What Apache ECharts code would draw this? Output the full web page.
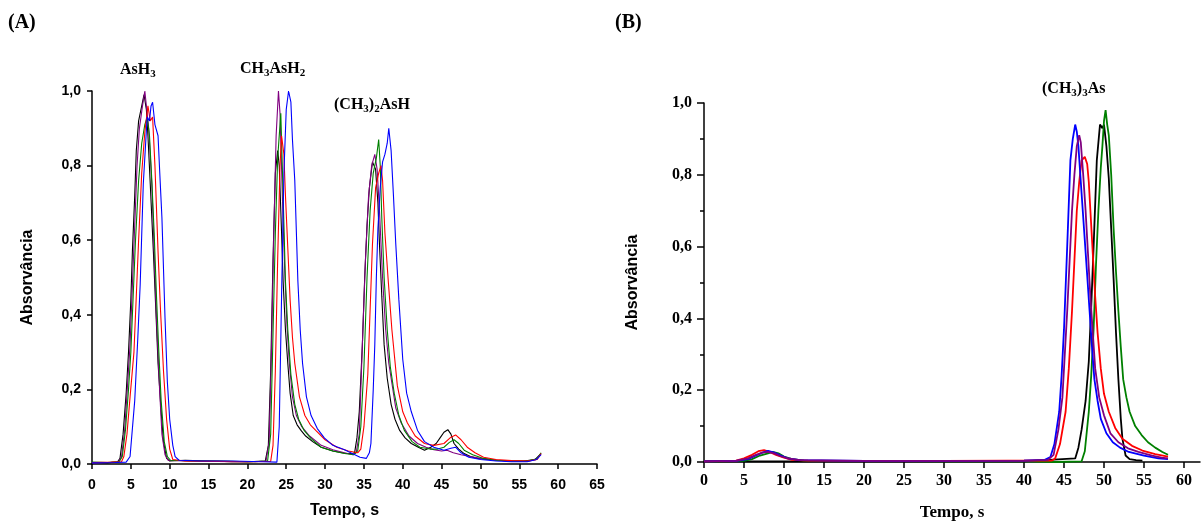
<!DOCTYPE html>
<html>
<head>
<meta charset="utf-8">
<script src="https://cdn.jsdelivr.net/npm/echarts@6/dist/echarts.min.js"></script>
<style>html,body{margin:0;padding:0;background:#fff}#c{width:1201px;height:528px}</style>
</head>
<body>
<div id="c"></div>
<script>
// ---------- DATA (time s, absorbance) ----------
const xTicksA = [0,5,10,15,20,25,30,35,40,45,50,55,60,65];
const xTicksB = [0,5,10,15,20,25,30,35,40,45,50,55,60];
const yTicks = [0,0.2,0.4,0.6,0.8,1.0];
const colors = {black:'#000000', purple:'#800080', green:'#008000', red:'#ff0000', blue:'#0000ff'};

const aBlack = [[0,0.004],[2,0.003],[3.3,0.006],[3.6,0.015],[4.0,0.08],[4.4,0.19],[4.7,0.30],[5.0,0.44],[5.2,0.57],[5.5,0.72],[5.7,0.84],[6.0,0.92],[6.4,0.96],[6.7,0.99],[7.0,0.95],[7.2,0.88],[7.5,0.75],[7.9,0.57],[8.2,0.42],[8.5,0.27],[8.9,0.14],[9.2,0.06],[9.6,0.015],[10,0.008],[12,0.01],[15,0.008],[18,0.006],[21,0.006],[22.3,0.008],[22.7,0.05],[23.0,0.25],[23.3,0.55],[23.6,0.78],[23.9,0.84],[24.1,0.80],[24.4,0.62],[24.6,0.49],[24.9,0.36],[25.2,0.27],[25.5,0.19],[25.9,0.13],[26.4,0.105],[26.9,0.09],[27.5,0.075],[28.4,0.06],[29.5,0.045],[31,0.035],[32.7,0.028],[33.5,0.028],[33.8,0.03],[34.1,0.07],[34.4,0.14],[34.8,0.32],[35.1,0.50],[35.4,0.64],[35.7,0.74],[36.1,0.81],[36.5,0.79],[36.8,0.70],[37.0,0.59],[37.3,0.45],[37.6,0.32],[38.0,0.23],[38.5,0.16],[39.0,0.12],[39.6,0.09],[40.3,0.07],[41.1,0.055],[42,0.045],[42.8,0.037],[43.6,0.045],[44.3,0.055],[44.8,0.07],[45.3,0.085],[45.8,0.092],[46.2,0.08],[46.6,0.055],[47.2,0.04],[47.9,0.028],[48.7,0.02],[49.6,0.015],[51,0.012],[52.2,0.01],[54,0.008],[55.6,0.008],[57,0.012],[57.8,0.028]];
const aPurple = [[0,0.003],[2,0.004],[3.4,0.005],[3.8,0.02],[4.2,0.09],[4.6,0.22],[4.9,0.32],[5.2,0.48],[5.5,0.64],[5.8,0.80],[6.1,0.90],[6.5,0.96],[6.8,1.0],[7.0,1.0],[7.3,0.90],[7.7,0.75],[8.0,0.57],[8.3,0.39],[8.7,0.20],[9.0,0.08],[9.4,0.025],[9.8,0.01],[12,0.008],[16,0.007],[20,0.006],[22.4,0.008],[22.8,0.06],[23.1,0.30],[23.4,0.62],[23.7,0.88],[24.0,1.0],[24.2,0.94],[24.5,0.72],[24.8,0.52],[25.1,0.37],[25.4,0.27],[25.8,0.18],[26.3,0.13],[27,0.1],[28,0.075],[29.5,0.05],[31,0.038],[32.5,0.03],[33.6,0.025],[34.0,0.03],[34.4,0.08],[34.8,0.32],[35.2,0.55],[35.6,0.72],[36.0,0.80],[36.4,0.83],[36.7,0.79],[37.0,0.68],[37.4,0.50],[37.8,0.36],[38.2,0.27],[38.5,0.23],[39.1,0.15],[39.8,0.11],[40.8,0.075],[41.9,0.055],[43,0.045],[44,0.038],[45,0.035],[45.7,0.037],[46.5,0.03],[47.5,0.025],[48.7,0.02],[50,0.015],[52,0.01],[54,0.008],[56,0.007],[57.2,0.012],[57.8,0.028]];
const aGreen = [[0,0.005],[2,0.004],[3.5,0.006],[3.9,0.02],[4.3,0.09],[4.7,0.2],[5.0,0.30],[5.3,0.45],[5.6,0.6],[6.0,0.76],[6.4,0.86],[6.8,0.91],[7.1,0.93],[7.4,0.88],[7.7,0.76],[8.0,0.62],[8.3,0.45],[8.6,0.30],[8.9,0.17],[9.3,0.06],[9.7,0.02],[10.1,0.01],[13,0.008],[17,0.008],[20,0.006],[22.6,0.008],[23.0,0.08],[23.3,0.35],[23.6,0.62],[23.9,0.82],[24.3,0.94],[24.6,0.72],[24.9,0.49],[25.2,0.36],[25.6,0.24],[26.1,0.16],[26.6,0.12],[27.3,0.09],[28.2,0.068],[29.5,0.045],[31,0.035],[32.5,0.028],[33.7,0.025],[34.2,0.035],[34.6,0.1],[35.0,0.26],[35.4,0.5],[35.8,0.68],[36.2,0.78],[36.6,0.82],[36.9,0.87],[37.1,0.8],[37.3,0.66],[37.6,0.50],[38.0,0.36],[38.4,0.26],[38.9,0.19],[39.5,0.13],[40.2,0.09],[41.2,0.06],[42.2,0.045],[43.5,0.04],[44.5,0.04],[45.3,0.045],[46,0.058],[46.6,0.065],[47.2,0.055],[47.9,0.037],[49,0.025],[50.4,0.015],[52,0.01],[54,0.008],[56,0.008],[57.3,0.014],[57.8,0.03]];
const aRed = [[0,0.004],[2.5,0.005],[3.8,0.006],[4.1,0.02],[4.5,0.08],[4.9,0.18],[5.4,0.30],[5.7,0.45],[6.0,0.6],[6.4,0.78],[6.8,0.89],[7.2,0.96],[7.5,0.92],[7.8,0.93],[8.1,0.8],[8.5,0.57],[8.8,0.42],[9.2,0.25],[9.6,0.12],[10.0,0.04],[10.4,0.012],[12,0.008],[16,0.007],[20,0.006],[23.0,0.007],[23.3,0.05],[23.6,0.25],[23.9,0.55],[24.2,0.8],[24.4,0.88],[24.7,0.83],[24.9,0.72],[25.2,0.58],[25.5,0.44],[25.8,0.34],[26.1,0.27],[26.7,0.18],[27.4,0.13],[28.1,0.105],[28.8,0.09],[30,0.065],[31.5,0.045],[33,0.035],[34.2,0.03],[34.6,0.04],[35.0,0.1],[35.5,0.24],[36.1,0.59],[36.5,0.74],[36.9,0.78],[37.2,0.80],[37.4,0.76],[37.7,0.62],[38.1,0.50],[38.6,0.36],[39.3,0.21],[40.0,0.14],[40.6,0.11],[41.6,0.075],[42.8,0.055],[44,0.05],[45.3,0.055],[46.2,0.072],[46.8,0.078],[47.5,0.065],[48.3,0.045],[49.3,0.03],[50.4,0.018],[52,0.012],[54,0.009],[56,0.008],[57.3,0.012],[57.8,0.028]];
const aBlue = [[0,0.003],[3,0.004],[4.4,0.005],[4.9,0.02],[5.5,0.17],[5.9,0.34],[6.2,0.48],[6.6,0.75],[7.1,0.93],[7.4,0.92],[7.6,0.96],[7.8,0.97],[8.1,0.91],[8.5,0.88],[8.7,0.79],[9.0,0.66],[9.4,0.39],[9.7,0.22],[10.0,0.12],[10.4,0.05],[10.7,0.02],[11.2,0.01],[14,0.008],[18,0.008],[22,0.006],[23.8,0.005],[24.1,0.1],[24.4,0.45],[24.7,0.78],[25.0,0.95],[25.3,1.0],[25.6,0.97],[25.8,0.87],[26.1,0.76],[26.5,0.49],[26.8,0.36],[27.1,0.27],[27.6,0.18],[28.2,0.13],[29,0.095],[29.9,0.07],[31,0.05],[32.5,0.038],[33.5,0.028],[34.5,0.018],[35.3,0.015],[35.7,0.03],[35.9,0.055],[36.2,0.2],[36.4,0.32],[36.6,0.5],[36.8,0.63],[37.1,0.74],[37.4,0.81],[37.7,0.83],[38.0,0.86],[38.2,0.90],[38.5,0.84],[38.8,0.72],[39.1,0.59],[39.5,0.44],[40.0,0.28],[40.5,0.19],[41.1,0.14],[41.9,0.09],[42.8,0.06],[44,0.045],[45.3,0.037],[46.2,0.042],[46.8,0.045],[47.5,0.03],[48.5,0.018],[50,0.012],[52,0.008],[54,0.006],[56,0.006],[57.2,0.012],[57.8,0.025]];

const bBlack = [[0,0.002],[10,0.002],[20,0.002],[30,0.002],[40,0.002],[46.4,0.01],[46.8,0.04],[47.2,0.09],[47.7,0.17],[48.1,0.28],[48.4,0.43],[48.7,0.60],[49.1,0.84],[49.5,0.94],[49.8,0.93],[50.0,0.94],[50.3,0.88],[50.6,0.79],[50.9,0.65],[51.2,0.51],[51.5,0.36],[51.8,0.23],[52.1,0.12],[52.3,0.065],[52.7,0.018],[53.2,0.008],[54.0,0.005],[54.8,0.004]];
const bGreen = [[0,0.002],[5,0.003],[6,0.008],[7,0.018],[8,0.024],[8.6,0.028],[9.3,0.024],[10,0.015],[11,0.008],[12.5,0.004],[20,0.003],[30,0.002],[40,0.002],[44,0.0],[47.2,0.002],[47.6,0.03],[48.1,0.14],[48.4,0.24],[48.7,0.37],[49.0,0.55],[49.3,0.70],[49.6,0.82],[49.8,0.88],[50.0,0.95],[50.2,0.98],[50.4,0.94],[50.6,0.91],[50.9,0.80],[51.2,0.65],[51.5,0.53],[51.8,0.42],[52.1,0.32],[52.4,0.23],[52.8,0.18],[53.2,0.14],[53.9,0.10],[54.7,0.075],[55.5,0.055],[56.4,0.04],[57.3,0.028],[58,0.02]];
const bRed = [[0,0.002],[4,0.004],[5,0.01],[6,0.02],[6.8,0.03],[7.5,0.033],[8.2,0.028],[9,0.02],[10,0.012],[11,0.006],[13,0.004],[20,0.003],[30,0.003],[38,0.004],[43.5,0.004],[43.9,0.01],[44.5,0.05],[45.2,0.14],[45.6,0.26],[46.0,0.42],[46.3,0.56],[46.6,0.70],[46.9,0.78],[47.2,0.84],[47.6,0.85],[47.9,0.83],[48.1,0.78],[48.3,0.70],[48.6,0.58],[48.9,0.46],[49.2,0.36],[49.6,0.26],[50.0,0.19],[50.6,0.14],[51.4,0.095],[52.3,0.065],[53.5,0.045],[54.8,0.032],[56.4,0.022],[58,0.015]];
const bBlue = [[0,0.002],[4,0.003],[5.5,0.008],[6.5,0.018],[7.3,0.026],[8.0,0.031],[8.8,0.026],[9.6,0.018],[10.5,0.01],[12,0.005],[20,0.003],[30,0.003],[40,0.004],[42.6,0.006],[43.3,0.014],[43.8,0.05],[44.4,0.14],[44.7,0.24],[45.0,0.37],[45.4,0.60],[45.8,0.84],[46.1,0.90],[46.4,0.94],[46.6,0.92],[46.8,0.88],[47.1,0.78],[47.5,0.65],[47.9,0.52],[48.2,0.42],[48.5,0.32],[48.8,0.23],[49.2,0.17],[49.6,0.12],[50.3,0.08],[51.1,0.055],[52.0,0.04],[53.1,0.028],[55,0.018],[56.8,0.01],[58,0.008]];
const bPurple = [[0,0.002],[4,0.003],[5.5,0.01],[6.5,0.02],[7.3,0.026],[8.0,0.028],[8.8,0.024],[9.6,0.016],[10.5,0.01],[12,0.005],[20,0.003],[30,0.003],[40,0.004],[43.0,0.006],[43.7,0.02],[44.3,0.09],[44.8,0.18],[45.1,0.30],[45.4,0.42],[45.7,0.56],[46.0,0.70],[46.3,0.80],[46.6,0.88],[46.9,0.91],[47.1,0.89],[47.4,0.80],[47.7,0.70],[48.0,0.58],[48.3,0.46],[48.6,0.36],[48.9,0.26],[49.4,0.18],[50.0,0.13],[50.8,0.08],[51.8,0.055],[53.0,0.038],[54.3,0.028],[56,0.018],[57.2,0.012],[58,0.01]];

// ---------- CHART ----------
const chart = echarts.init(document.getElementById('c'), null, {renderer:'canvas'});
const sans = 'Liberation Sans, Arial, sans-serif';
const serif = 'Liberation Serif, Times New Roman, serif';
const comma = v => v.toFixed(1).replace('.', ',');

function line(data, color, xi, w) {
  return {type:'line', data, xAxisIndex:xi, yAxisIndex:xi, showSymbol:false, symbol:'none',
    lineStyle:{color, width:w}, itemStyle:{color}, silent:true, animation:false, clip:true};
}
const richStyle = {
  n:{fontFamily:serif, fontWeight:'bold', fontSize:16, lineHeight:20, fill:'#000', verticalAlign:'middle'},
  s:{fontFamily:serif, fontWeight:'bold', fontSize:11, lineHeight:11, fill:'#000', verticalAlign:'bottom'}
};

chart.setOption({
  animation:false,
  backgroundColor:'#fff',
  grid:[
    {left:92, top:91, width:505, height:373},
    {left:704, top:103, width:496, height:359}
  ],
  xAxis:[
    {type:'value', gridIndex:0, min:0, max:65, interval:5,
     axisLine:{lineStyle:{color:'#000', width:1.5}},
     axisTick:{length:5, lineStyle:{color:'#000', width:1.5}},
     axisLabel:{color:'#000', fontFamily:sans, fontWeight:'bold', fontSize:14, margin:14, customValues:xTicksA},
     splitLine:{show:false},
     name:'Tempo, s', nameLocation:'middle', nameGap:39,
     nameTextStyle:{color:'#000', fontFamily:sans, fontWeight:'bold', fontSize:16}},
    {type:'value', gridIndex:1, min:0, max:62, interval:5,
     axisLine:{lineStyle:{color:'#000', width:1.5}},
     axisTick:{length:6, lineStyle:{color:'#000', width:1.5}, customValues:xTicksB},
     axisLabel:{color:'#000', fontFamily:serif, fontWeight:'bold', fontSize:16, margin:11, customValues:xTicksB},
     splitLine:{show:false},
     name:'Tempo, s', nameLocation:'middle', nameGap:42,
     nameTextStyle:{color:'#000', fontFamily:serif, fontWeight:'bold', fontSize:17}}
  ],
  yAxis:[
    {type:'value', gridIndex:0, min:0, max:1, interval:0.2,
     axisLine:{show:true, lineStyle:{color:'#000', width:1.5}},
     axisTick:{show:true, length:5, lineStyle:{color:'#000', width:1.5}},
     axisLabel:{color:'#000', fontFamily:sans, fontWeight:'bold', fontSize:14, margin:11, formatter:comma},
     splitLine:{show:false},
     name:'Absorvância', nameLocation:'middle', nameGap:56, nameRotate:90,
     nameTextStyle:{color:'#000', fontFamily:sans, fontWeight:'bold', fontSize:16}},
    {type:'value', gridIndex:1, min:0, max:1, interval:0.2,
     axisLine:{show:true, lineStyle:{color:'#000', width:1.5}},
     axisTick:{show:true, length:7, lineStyle:{color:'#000', width:1.5}},
     minorTick:{show:true, splitNumber:2, length:4, lineStyle:{color:'#000', width:1.5}},
     axisLabel:{color:'#000', fontFamily:serif, fontWeight:'bold', fontSize:16, margin:12, formatter:comma},
     splitLine:{show:false},
     name:'Absorvância', nameLocation:'middle', nameGap:63, nameRotate:90,
     nameTextStyle:{color:'#000', fontFamily:sans, fontWeight:'bold', fontSize:16}}
  ],
  series:[
    line(aBlack, colors.black, 0, 1.1),
    line(aPurple, colors.purple, 0, 1.1),
    line(aGreen, colors.green, 0, 1.1),
    line(aRed, colors.red, 0, 1.1),
    line(aBlue, colors.blue, 0, 1.1),
    line(bBlack, colors.black, 1, 1.8),
    line(bGreen, colors.green, 1, 1.8),
    line(bRed, colors.red, 1, 1.8),
    line(bBlue, colors.blue, 1, 1.8),
    line(bPurple, colors.purple, 1, 1.8)
  ],
  graphic:[
    {type:'text', left:8, top:13, style:{text:'(A)', fill:'#000', font:'bold 20px ' + serif}},
    {type:'text', left:615, top:13, style:{text:'(B)', fill:'#000', font:'bold 20px ' + serif}},
    {type:'text', left:120, top:62, style:{text:'{n|AsH}{s|3}', rich:richStyle}},
    {type:'text', left:240, top:61, style:{text:'{n|CH}{s|3}{n|AsH}{s|2}', rich:richStyle}},
    {type:'text', left:334, top:97, style:{text:'{n|(CH}{s|3}{n|)}{s|2}{n|AsH}', rich:richStyle}},
    {type:'text', left:1042, top:81, style:{text:'{n|(CH}{s|3}{n|)}{s|3}{n|As}', rich:richStyle}}
  ]
});
</script>
</body>
</html>
